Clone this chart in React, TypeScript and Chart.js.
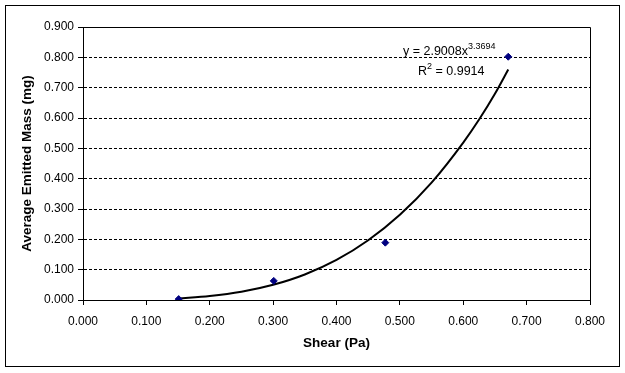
import React, { useEffect, useRef } from "react";
import { Chart, registerables } from "chart.js";

Chart.register(...registerables);

const shear = [0.151, 0.301, 0.477, 0.671];
const emittedMass = [0.003, 0.063, 0.189, 0.802];

const trendShear = [0.15, 0.2, 0.25, 0.3, 0.35, 0.4, 0.45, 0.5, 0.55, 0.6, 0.625, 0.65, 0.671];
const trendMass = [0.005, 0.013, 0.027, 0.05, 0.084, 0.132, 0.197, 0.281, 0.387, 0.519, 0.595, 0.68, 0.76];

const yTicks = [0, 0.1, 0.2, 0.3, 0.4, 0.5, 0.6, 0.7, 0.8, 0.9];
const xTicks = [0, 0.1, 0.2, 0.3, 0.4, 0.5, 0.6, 0.7, 0.8];

const equationText = "y = 2.9008x";
const equationExp = "3.3694";
const rText = "R";
const rValue = " = 0.9914";

const FONT = "'Liberation Sans', Arial, sans-serif";

const framePlugin = {
  id: "frame",
  afterDraw(chart: any) {
    const { ctx, chartArea } = chart;
    ctx.save();
    ctx.strokeStyle = "#000";
    ctx.lineWidth = 1;
    ctx.strokeRect(5.5, 5.5, 614, 361);
    ctx.beginPath();
    ctx.moveTo(Math.round(chartArea.left) + 0.5, Math.round(chartArea.top) + 0.5);
    ctx.lineTo(Math.round(chartArea.right) + 0.5, Math.round(chartArea.top) + 0.5);
    ctx.lineTo(Math.round(chartArea.right) + 0.5, Math.round(chartArea.bottom) + 0.5);
    ctx.stroke();
    // equation label
    ctx.fillStyle = "#000";
    ctx.textBaseline = "alphabetic";
    ctx.font = `12.5px ${FONT}`;
    const ex = 403;
    const ey = 55;
    ctx.fillText(equationText, ex, ey);
    const w1 = ctx.measureText(equationText).width;
    ctx.font = `9px ${FONT}`;
    ctx.fillText(equationExp, ex + w1, ey - 6);
    ctx.font = `12.5px ${FONT}`;
    const rx = 418;
    const ry = 75;
    ctx.fillText(rText, rx, ry);
    const w2 = ctx.measureText(rText).width;
    ctx.font = `9px ${FONT}`;
    ctx.fillText("2", rx + w2, ry - 6);
    const w3 = ctx.measureText("2").width;
    ctx.font = `12.5px ${FONT}`;
    ctx.fillText(rValue, rx + w2 + w3, ry);
    ctx.restore();
  },
};

export default function App() {
  const ref = useRef<HTMLCanvasElement>(null);
  useEffect(() => {
    if (!ref.current) return;
    const chart = new Chart(ref.current, {
      type: "scatter",
      data: {
        datasets: [
          {
            label: "Trend",
            data: trendShear.map((x, i) => ({ x, y: trendMass[i] })),
            showLine: true,
            borderColor: "#000",
            borderWidth: 2,
            pointRadius: 0,
            cubicInterpolationMode: "monotone",
            order: 2,
          },
          {
            label: "Data",
            data: shear.map((x, i) => ({ x, y: emittedMass[i] })),
            showLine: false,
            pointStyle: "rectRot",
            pointRadius: 3.5,
            backgroundColor: "#000080",
            borderColor: "#000080",
            order: 1,
          },
        ],
      },
      options: {
        animation: false,
        responsive: false,
        maintainAspectRatio: false,
        layout: { padding: { left: 0, right: 35, top: 27, bottom: 0 } },
        plugins: { legend: { display: false }, tooltip: { enabled: false } },
        scales: {
          x: {
            type: "linear",
            min: 0,
            max: 0.8,
            afterFit: (s: any) => {
              s.height = 73;
            },
            afterBuildTicks: (s: any) => {
              s.ticks = xTicks.map((v) => ({ value: v }));
            },
            ticks: {
              color: "#000",
              font: { family: FONT, size: 12 },
              padding: 9,
              maxRotation: 0,
              callback: (v: any) => Number(v).toFixed(3),
            },
            grid: { drawOnChartArea: false, drawTicks: true, tickLength: 5, color: "#000", tickBorderDash: [] },
            border: { display: true, color: "#000", width: 1 },
            title: {
              display: true,
              text: "Shear (Pa)",
              color: "#000",
              font: { family: FONT, size: 13.5, weight: "bold" },
              padding: { top: 22, bottom: 22 },
            },
          },
          y: {
            type: "linear",
            min: 0,
            max: 0.9,
            afterFit: (s: any) => {
              s.width = 83;
            },
            afterBuildTicks: (s: any) => {
              s.ticks = yTicks.map((v) => ({ value: v }));
            },
            ticks: {
              color: "#000",
              font: { family: FONT, size: 12 },
              padding: 4,
              callback: (v: any) => Number(v).toFixed(3),
            },
            grid: { drawOnChartArea: true, drawTicks: true, tickLength: 5, color: "#000", lineWidth: 1, tickBorderDash: [] },
            border: { display: true, color: "#000", width: 1, dash: [3, 2] },
            title: {
              display: true,
              text: "Average Emitted Mass (mg)",
              color: "#000",
              font: { family: FONT, size: 13.5, weight: "bold" },
              padding: { top: 19.5, bottom: 19.5 },
            },
          },
        },
      },
      plugins: [framePlugin],
    } as any);
    return () => chart.destroy();
  }, []);
  return (
    <div style={{ position: "fixed", left: 0, top: 0, width: 625, height: 373, background: "#fff" }}>
      <canvas ref={ref} width={625} height={373} style={{ display: "block", width: 625, height: 373 }} />
    </div>
  );
}
